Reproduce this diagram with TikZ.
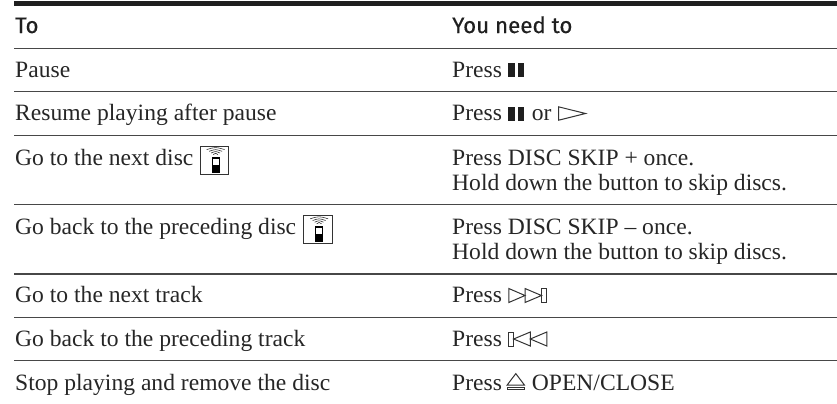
\documentclass[tikz,border=0pt]{standalone}
\usepackage{fontspec}
\setmainfont{Liberation Serif}[FakeStretch=1.008]
\newfontfamily\headfont{Fira Sans}[FakeBold=0.35]
\tikzset{
  rowtext/.style={anchor=base west,inner sep=0pt,font=\fontsize{23.4bp}{25bp}\selectfont,text=black!85},
  headtext/.style={anchor=base west,inner sep=0pt,font=\headfont\fontsize{22.3bp}{25bp}\selectfont,text=black!88},
  rulethin/.style={line width=1.2bp,draw=black!72},
  symthin/.style={line width=1bp,draw=black!80,line join=miter},
  remoteicon/.pic={
    \draw[line width=0.9bp,draw=black!80,fill=white] (0,0) rectangle (28.6,28.5);
    \fill[black] (11.3,10.7) rectangle (19.3,26.7);
    \fill[white] (12.5,13.2) rectangle (18.2,19);
    \foreach \wd/\tp/\bw in {9/2.4/3.6,6.5/4.6/5.3,4.4/6.6/7,2.4/8.3/8.6}{
      \draw[line width=0.55bp,draw=black!85] (15.3-\wd,\bw) .. controls (15.3,\tp-1.5) .. (15.3+\wd,\bw);
    }
  },
  pausesym/.pic={
    \fill[black!88] (0,0) rectangle (6.6,-13.8);
    \fill[black!88] (9.4,0) rectangle (15.7,-13.8);
  },
}
\begin{document}
\begin{tikzpicture}[x=1bp,y=-1bp]
\useasboundingbox (0,0) rectangle (837,403);
\fill[black!88] (14.3,0.7) rectangle (837,6);
\foreach \yy in {48.2,91.7,135.6,204.8,274,317.2,360.8}{\draw[rulethin] (14.3,\yy) -- (837,\yy);}
\node[headtext] (h1) at (15,33) {To};
\node[headtext] (h2) at (452,33) {You need to};
\node[rowtext] (a1) at (15,77) {Pause};
\node[rowtext] (a2) at (15,120.7) {Resume playing after pause};
\node[rowtext] (a3) at (15,165) {Go to the next disc};
\node[rowtext] (a4) at (15,234) {Go back to the preceding disc};
\node[rowtext] (a5) at (15,302.7) {Go to the next track};
\node[rowtext] (a6) at (15,346.7) {Go back to the preceding track};
\node[rowtext] (a7) at (15,390) {Stop playing and remove the disc};
\node[rowtext] (b1) at (452,77) {Press};
\node[rowtext] (b2) at (452,120.7) {Press};
\node[rowtext] (b3) at (452,165) {Press DISC SKIP + once.};
\node[rowtext] (b3b) at (452,190) {Hold down the button to skip discs.};
\node[rowtext] (b4) at (452,234) {Press DISC SKIP – once.};
\node[rowtext] (b4b) at (452,259) {Hold down the button to skip discs.};
\node[rowtext] (b5) at (452,302.7) {Press};
\node[rowtext] (b6) at (452,346.7) {Press};
\node[rowtext] (b7) at (452,390) {Press};
\node[rowtext] (b7c) at (531.7,390) {OPEN/CLOSE};
\node[rowtext] (b2o) at (531.7,120.7) {or};
% remote icons
\pic at (200.3,146) {remoteicon};
\pic at (303.8,215.2) {remoteicon};
% pause
\pic at (508.3,76.9) {pausesym};
\pic at (508.3,120.5) {pausesym};
% play
\draw[symthin] (558.6,106.8) -- (585.5,113.5) -- (558.6,120.2) -- cycle;
% next track
\draw[symthin] (508.8,288.5) -- (525,295.5) -- (508.8,302.5) -- cycle;
\draw[symthin] (525,288.5) -- (541.5,295.5) -- (525,302.5) -- cycle;
\draw[symthin] (541.8,288.5) rectangle (546.8,302.5);
% previous track
\draw[symthin] (508.6,332) rectangle (513.4,346);
\draw[symthin] (530.3,332) -- (513.6,339) -- (530.3,346) -- cycle;
\draw[symthin] (546.8,332) -- (530.3,339) -- (546.8,346) -- cycle;
% eject
\draw[symthin] (507.2,385) -- (515.8,373.6) -- (524.4,385) -- cycle;
\draw[symthin] (507.2,387) rectangle (524.4,389.9);
\end{tikzpicture}
\end{document}
